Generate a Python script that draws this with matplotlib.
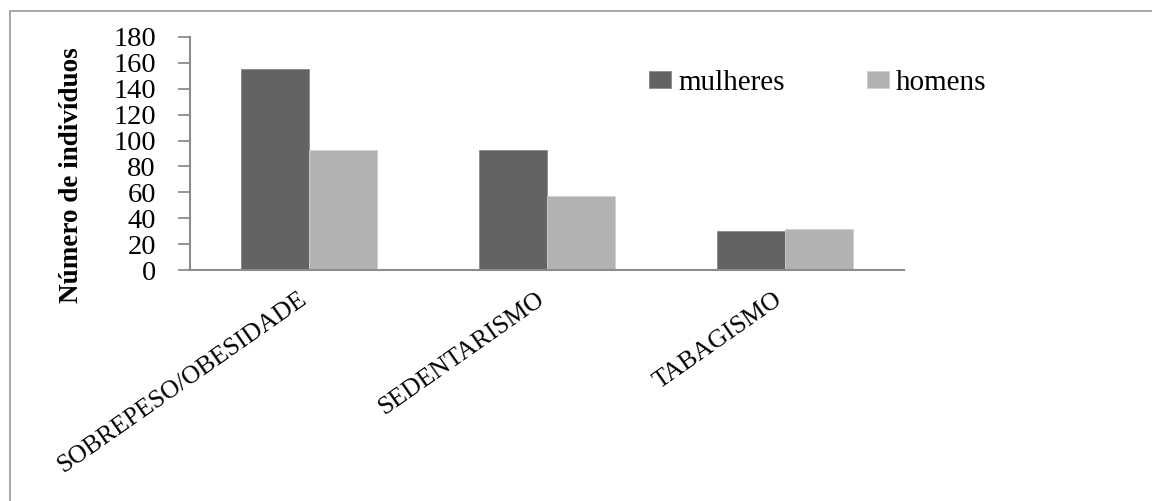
import numpy as np
import matplotlib
matplotlib.use("Agg")
import matplotlib.pyplot as plt
from matplotlib.patches import Rectangle

# counts per risk factor
categorias = ["SOBREPESO/OBESIDADE", "SEDENTARISMO", "TABAGISMO"]
mulheres = [155, 93, 30]
homens = [93, 57, 32]
yticks = [0, 20, 40, 60, 80, 100, 120, 140, 160, 180]

plt.rcParams['font.family'] = ['Liberation Serif', 'DejaVu Serif']

fig = plt.figure(figsize=(11.52, 5.01), dpi=100)
ax = fig.add_axes([190/1152, 1 - 270/501, (904 - 190)/1152, (270 - 37)/501])

# outer chart frame (right and bottom edges fall outside the canvas)
top = 1 - 11/501
fig.patches.append(Rectangle((10/1152, -0.2), 1.2, top + 0.2,
                             transform=fig.transFigure, fill=False,
                             edgecolor='#a6a6a6', linewidth=1.4, zorder=0))

x = np.arange(len(categorias))
w = 0.286
ax.bar(x - w/2, mulheres, w, color='#636363', edgecolor='#8a8a8a',
       linewidth=0.6, label='mulheres', zorder=2)
ax.bar(x + w/2, homens, w, color='#b2b2b2', edgecolor='#d0d0d0',
       linewidth=0.6, label='homens', zorder=2)

ax.set_xlim(-0.5, 2.5)
ax.set_ylim(0, 180)
ax.set_yticks(yticks)
ax.set_yticklabels([str(v) for v in yticks], fontsize=20.5)
ax.set_xticks(x)
ax.set_xticklabels([])

# slanted category names hanging under each group
for xi, nome in zip(x, categorias):
    ax.annotate(nome, xy=(xi, 0), xycoords=('data', 'axes fraction'),
                xytext=(-8, -13), textcoords='offset points',
                rotation=35, rotation_mode='anchor', ha='right', va='top',
                fontsize=18.5)

for s in ['top', 'right']:
    ax.spines[s].set_visible(False)
for s in ['left', 'bottom']:
    ax.spines[s].set_color('#8c8c8c')
    ax.spines[s].set_linewidth(1.5)

ax.tick_params(axis='y', direction='out', length=8.5, width=1.3,
               color='#8c8c8c', pad=16)
ax.tick_params(axis='x', length=0)

ax.set_ylabel('Número de indivíduos', fontsize=19.5, fontweight='bold')
ax.yaxis.set_label_coords((84 - 190)/714, (270 - 175)/233)

ax.legend(loc='center left', bbox_to_anchor=(649/1152, 1 - 83/501),
          bbox_transform=fig.transFigure, ncol=2, frameon=False,
          fontsize=21, handlelength=0.76, handleheight=0.55,
          handletextpad=0.25, columnspacing=2.8, borderpad=0, borderaxespad=0)

fig.savefig('out.png', dpi=100, facecolor='white')
